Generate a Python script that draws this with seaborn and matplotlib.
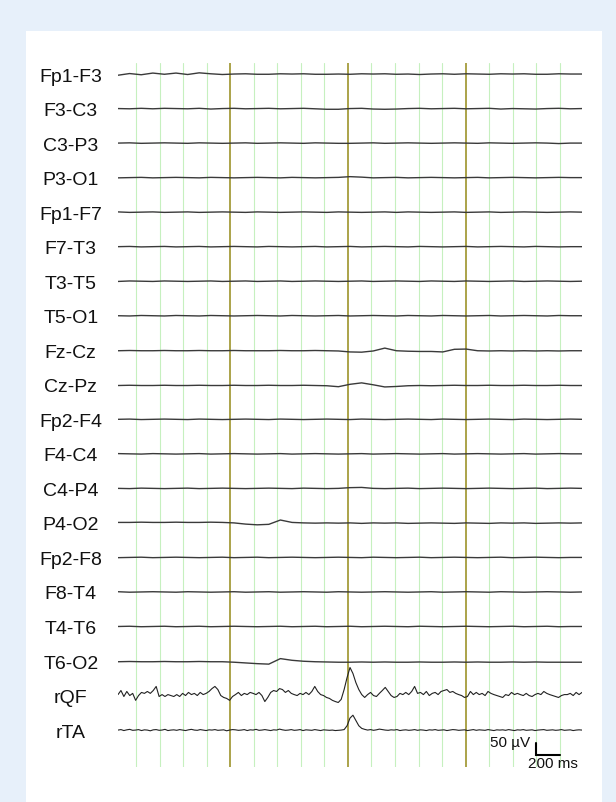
import numpy as np
import matplotlib
matplotlib.use("Agg")
import matplotlib.pyplot as plt
from matplotlib.patches import Rectangle
import seaborn as sns

# montage, top to bottom
channels = ["Fp1-F3", "F3-C3", "C3-P3", "P3-O1", "Fp1-F7", "F7-T3", "T3-T5", "T5-O1",
            "Fz-Cz", "Cz-Pz", "Fp2-F4", "F4-C4", "C4-P4", "P4-O2", "Fp2-F8", "F8-T4",
            "T4-T6", "T6-O2", "rQF", "rTA"]

# time in seconds (0 = first 1 s marker)
t_eeg = np.linspace(-0.955, 2.99, 41)
t_emg = np.linspace(-0.955, 2.99, 159)

# EEG traces, µV
fp1_f3 = [-5, 2, -3, 4, -1, 4, -2, 5, 1, -2,
          0, 1, -1, -1, 1, 0, 1, -1, -1, 0,
          -1, 1, 0, 1, -1, 0, -2, 0, 1, -1,
          1, 0, -1, 1, 0, 1, -1, -1, 1, 0, 0]
f3_c3 = [0, -1, 1, -1, 1, 0, -1, 1, -2, 0,
         1, -1, 0, 1, -1, 0, 1, -1, -3, -3,
         0, 1, -2, -3, -2, 0, 1, -1, 0, 1,
         -1, 0, 1, -2, 0, -1, -2, 0, 1, -1, 0]
c3_p3 = [0, 1, -1, 0, 1, 0, -1, 1, 0, -1,
         0, 1, -1, 0, 1, 0, -1, 1, 0, -1,
         -1, 0, 1, -1, 0, 1, 0, -1, 0, 1,
         0, -1, 1, 0, -1, 0, 1, 0, -2, 0, 0]
p3_o1 = [-1, 0, 1, -1, 0, 1, 0, -1, 1, 0,
         -1, 0, 1, 0, -1, 1, 0, -1, 0, 1,
         4, 2, -1, 0, 1, -1, 0, 1, 0, -1,
         0, 1, -1, 0, 1, 0, -1, 0, 1, 0, 0]
fp1_f7 = [1, -1, 0, 1, -1, 0, 1, -1, 0, 1,
          0, -1, 1, 0, -1, 0, 1, 0, -1, 1,
          0, -1, 0, 1, -1, 1, 0, -1, 0, 1,
          -1, 0, 1, -1, 0, 1, 0, -1, 0, 1, 0]
f7_t3 = [0, 1, -1, 0, 1, -1, 0, 1, -1, 0,
         1, 0, -1, 1, 0, -1, 0, 1, -1, 0,
         1, -1, 0, 1, 0, -1, 1, 0, -1, 0,
         1, -1, 0, 1, 0, -1, 1, 0, -1, 0, 0]
t3_t5 = [-1, 1, 0, -1, 1, 0, -1, 0, 1, -1,
         0, 1, -1, 0, 1, -1, 0, 1, 0, -1,
         0, 1, -1, 0, 1, 0, -1, 1, 0, -1,
         1, 0, -1, 0, 1, -1, 0, 1, 0, -1, 0]
t5_o1 = [0, -1, 1, 0, -1, 1, 0, -1, 1, 0,
         -1, 0, 1, 0, -1, 1, 0, -1, 0, 1,
         -1, 0, 1, 0, -1, 1, 0, -1, 1, 0,
         -1, 0, 1, -1, 0, 1, 0, -1, 1, 0, 0]
fz_cz = [-2, -1, -2, -2, -1, -2, -2, -1, -2, -2,
         -1, -2, -2, -2, -1, -2, -2, -1, -2, -3,
         -7, -8, -3, 9, -2, -4, -5, -5, -7, 4,
         5, -2, -3, -2, -3, -2, -3, -2, -3, -2, -2]
cz_pz = [-3, -2, -3, -3, -2, -3, -3, -2, -3, -3,
         -2, -3, -3, -2, -3, -3, -2, -3, -4, -8,
         2, 8, 0, -9, -7, -4, -3, -4, -3, -2,
         -3, -3, -2, -3, -3, -2, -3, -3, -2, -3, -3]
fp2_f4 = [0, 1, -1, 0, 1, 0, -1, 1, 0, -1,
          0, 1, 0, -1, 1, 0, -1, 0, 1, 0,
          -1, 1, 0, -1, 0, 1, 0, -1, 1, 0,
          -1, 0, 1, 0, -1, 1, 0, -1, 0, 1, 0]
f4_c4 = [1, 0, -1, 1, 0, -1, 0, 1, -1, 0,
         1, 0, -1, 0, 1, -1, 0, 1, 0, -1,
         0, 1, -1, 0, 1, 0, -1, 0, 1, -1,
         0, 1, 0, -1, 0, 1, -1, 0, 1, 0, 0]
c4_p4 = [0, -1, 1, 0, -1, 0, 1, -1, 0, 1,
         0, -1, 0, 1, 0, -1, 1, 0, -1, 0,
         3, 4, 0, -1, 0, 1, -1, 0, 1, 0,
         -1, 0, 1, 0, -1, 0, 1, -1, 0, 1, 0]
p4_o2 = [2, 2, 3, 2, 2, 3, 2, 2, 3, 2,
         0, -5, -8, -6, 12, 2, 0, -1, 0, -1,
         0, -2, 0, -1, 0, -2, -1, 0, -1, -2,
         0, -1, -2, 0, -1, 0, -2, -1, 0, -1, 0]
fp2_f8 = [-1, 0, 1, -1, 0, 1, 0, -1, 0, 1,
          -1, 0, 1, -1, 0, 1, 0, -1, 0, 1,
          0, -1, 1, 0, -1, 0, 1, -1, 0, 1,
          0, -1, 0, 1, -1, 0, 1, 0, -1, 0, 0]
f8_t4 = [1, -1, 0, 1, 0, -1, 1, 0, -1, 0,
         1, -1, 0, 1, -1, 0, 1, 0, -1, 1,
         0, -1, 0, 1, 0, -1, 0, 1, -1, 0,
         1, 0, -1, 1, 0, -1, 0, 1, 0, -1, 0]
t4_t6 = [0, 1, -1, 0, 1, -1, 0, 1, -1, 0,
         1, 0, -1, 0, 1, -1, 0, 1, -1, 0,
         1, -1, 0, 1, 0, -1, 1, 0, -1, 0,
         1, 0, -1, 0, 1, -1, 0, 1, -1, 0, 0]
t6_o2 = [-3, -2, -3, -3, -2, -3, -3, -2, -3, -3,
         -5, -8, -11, -13, 10, 3, -1, -3, -4, -5,
         -5, -4, -5, -4, -5, -5, -4, -5, -5, -4,
         -5, -4, -5, -5, -4, -5, -4, -5, -5, -5, -5]

# EMG traces, µV
rqf = [4, 21, -4, 17, 0, 9, -20, 0, 13, 9,
       17, 9, 21, 38, -4, 4, -4, 4, 0, -4,
       4, -4, 9, 0, 13, 4, 9, 0, 13, 4,
       9, 17, 29, 38, 25, 0, -8, -12, -20, -4,
       4, 13, 0, 9, 4, 13, 9, 4, 13, 0,
       -25, -8, 13, 21, 17, 29, 25, 13, 21, 9,
       4, 0, 9, 4, 13, 4, 17, 38, 17, 4,
       0, -8, -12, -20, -25, -29, -16, 25, 75, 117,
       92, 54, 25, 4, -8, 4, 13, 0, -4, 9,
       21, 34, 17, 0, -8, -4, 9, 4, 13, 4,
       17, 38, 9, 13, 4, 17, 0, 9, 13, 4,
       17, 21, 25, 13, 17, 9, 4, 0, -8, -4,
       17, 4, 13, 4, 9, 0, 17, 9, 4, 0,
       -4, -8, 4, 0, 13, 4, 9, 4, 0, 9,
       0, -4, 4, 9, 4, 17, 9, 4, 0, -4,
       -8, 0, 4, 4, 9, 0, 13, 4, 13]
rta = [0, 2, -2, 1, 3, -1, 0, 2, -2, 1,
       0, -3, 1, 2, -1, 0, 3, -2, 0, 1,
       -1, 2, 0, -2, 1, 3, 0, -1, 2, 0,
       -2, 1, 0, 2, -1, 0, 1, -3, 0, 2,
       1, -1, 0, 2, -2, 1, 0, 3, -1, 0,
       2, 0, -2, 1, 0, 4, 1, -1, 0, 2,
       -1, 0, 2, -2, 1, 0, -1, 2, 0, -2,
       1, 0, -1, 0, -2, -1, 0, 2, 18, 50,
       62, 40, 18, 7, 3, 0, 2, -1, 1, 4,
       2, 0, -1, 1, 0, 2, -2, 0, 1, -1,
       0, 2, -1, 1, 0, -2, 1, 0, 2, -1,
       0, 1, -2, 0, 2, 1, -1, 0, 1, -2,
       0, 2, -1, 1, 0, -1, 2, 0, -2, 1,
       0, 1, -1, 2, 0, -2, 1, 0, 2, -1,
       0, 1, -2, 0, 1, 2, -1, 0, 1, -1,
       0, 2, -1, 0, 1, -2, 0, 1, 0]

eeg_traces = [fp1_f3, f3_c3, c3_p3, p3_o1, fp1_f7, f7_t3, t3_t5, t5_o1, fz_cz, cz_pz,
              fp2_f4, f4_c4, c4_p4, p4_o2, fp2_f8, f8_t4, t4_t6, t6_o2]
emg_traces = [rqf, rta]

# timing marks (s)
marks_200ms = [-0.8, -0.6, -0.4, -0.2, 0.2, 0.4, 0.6, 0.8, 1.2, 1.4, 1.6, 1.8,
               2.2, 2.4, 2.6, 2.8]
marks_1s = [0, 1, 2]

spacing = 144  # µV between channel baselines

sns.set_style("white")
plt.rcParams["font.family"] = ["Liberation Sans", "DejaVu Sans"]

fig = plt.figure(figsize=(6.16, 8.03), dpi=100)
fig.patch.set_facecolor("#E7F0FA")
fig.add_artist(Rectangle((26 / 616, 0), 576 / 616, 771 / 803, transform=fig.transFigure,
                         facecolor="white", edgecolor="none", zorder=-1))

ax = fig.add_axes([118 / 616, 35 / 803, 464 / 616, 704 / 803])
ax.set_facecolor("none")

for t in marks_200ms:
    ax.axvline(t, color="#C6F0BF", lw=0.8, zorder=1)
for t in marks_1s:
    ax.axvline(t, color="#A59C3C", lw=1.3, zorder=1.5)

offsets = [-spacing * i for i in range(len(channels))]
for i, vals in enumerate(eeg_traces):
    sns.lineplot(x=t_eeg, y=np.array(vals) + offsets[i], ax=ax,
                 color="#3a3a3a", linewidth=1.0, zorder=3)
for j, vals in enumerate(emg_traces):
    i = len(eeg_traces) + j
    sns.lineplot(x=t_emg, y=np.array(vals) + offsets[i], ax=ax,
                 color="#222222", linewidth=0.8, zorder=3)

ax.set_xlim(-0.955, 2.99)
ax.set_ylim(-2890, 46)

ax.set_yticks(offsets, channels)
ax.tick_params(axis="y", length=0, pad=34, labelsize=14, labelcolor="#111111")
for lab in ax.get_yticklabels():
    lab.set_horizontalalignment("center")
ax.set_xticks([])
sns.despine(ax=ax, left=True, bottom=True)

# calibration bar: 50 µV / 200 ms
ax.plot([2.6, 2.6, 2.8], [-2790, -2840, -2840], color="black", lw=1.5,
        solid_joinstyle="miter", zorder=4)
ax.text(2.55, -2786, "50 µV", ha="right", va="center", fontsize=11, color="#111111")
ax.text(2.955, -2872, "200 ms", ha="right", va="center", fontsize=11, color="#111111")

fig.savefig("out.png", dpi=100)
